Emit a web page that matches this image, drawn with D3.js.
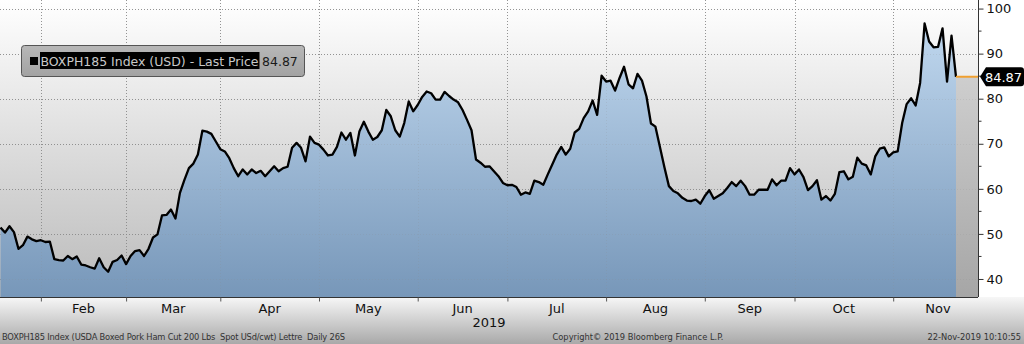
<!DOCTYPE html>
<html lang="en">
<head>
<meta charset="UTF-8">
<title>BOXPH185 Index</title>
<script src="https://d3js.org/d3.v7.min.js"></script>
<style>
  body { margin: 0; background: #fff; }
  svg { display: block; font-family: "DejaVu Sans", Verdana, sans-serif; }
  .foot text { white-space: pre; }
</style>
</head>
<body>
<svg width="1024" height="344"></svg>
<script>
// ---- data (one value per trading day) ----
const startDate = "2019-01-18";
const endAxisDate = "2019-12-31";
const holidays = ["2019-01-21", "2019-02-18", "2019-05-27", "2019-07-04",
                  "2019-09-02", "2019-10-14", "2019-11-28"];
const values = [
  // Jan
  51.4, 50.3, 51.7, 50.4, 46.7, 47.5, 49.4, 48.8, 48.4,
  // Feb
  48.6, 48.2, 48.3, 44.4, 44.2, 44.1, 45.1, 44.4, 45.0, 43.2,
  43.0, 42.6, 42.3, 44.6, 42.6, 41.6, 43.8, 44.2, 45.2,
  // Mar
  43.3, 45.1, 46.2, 46.4, 45.1, 46.7, 49.2, 49.9, 54.1, 54.2,
  55.4, 53.4, 59.1, 62.0, 64.6, 65.6, 67.6, 72.9, 72.7, 72.2, 70.5,
  // Apr
  68.8, 68.3, 66.8, 64.6, 62.8, 64.3, 63.2, 64.3, 63.5, 64.0, 62.8,
  63.9, 65.0, 63.9, 64.6, 64.9, 69.1, 70.2, 69.1, 66.1, 71.6, 70.2,
  // May
  69.8, 68.7, 67.4, 67.6, 69.3, 72.5, 70.9, 72.4, 67.4, 72.7, 74.9,
  72.7, 70.9, 71.5, 73.0, 77.5, 76.1, 73.0, 71.6, 74.6, 79.4, 77.2,
  // Jun
  78.6, 80.4, 81.6, 81.2, 79.8, 79.8, 81.5, 80.6, 79.8, 79.2,
  77.5, 75.3, 73.0, 66.5, 65.8, 64.9, 65.0, 63.9, 62.8, 61.3,
  // Jul
  60.8, 60.9, 60.4, 58.7, 59.2, 58.9, 61.8, 61.5, 60.9, 63.2, 65.4,
  67.6, 69.3, 67.6, 68.9, 72.5, 73.3, 75.7, 77.2, 79.6, 76.4, 85.1,
  // Aug
  83.8, 84.0, 81.8, 84.6, 87.1, 83.2, 82.3, 85.5, 84.0, 80.5, 74.5,
  73.8, 69.3, 64.8, 60.6, 59.5, 59.0, 58.0, 57.4, 57.3, 57.6, 56.7,
  // Sep
  58.4, 59.7, 57.8, 58.4, 59.0, 60.2, 61.5, 60.6, 61.8, 60.6,
  58.7, 58.7, 59.8, 59.8, 59.8, 62.1, 60.8, 61.8, 61.8, 64.6,
  // Oct
  63.2, 64.3, 62.6, 59.7, 60.6, 61.9, 57.6, 58.4, 57.4, 58.9, 63.7,
  63.9, 62.1, 62.7, 66.9, 65.6, 65.2, 63.2, 67.2, 68.9, 69.2, 67.2,
  // Nov
  68.1, 68.3, 74.6, 78.8, 80.1, 78.5, 83.5, 96.7, 92.7, 91.4,
  91.5, 95.6, 83.8, 94.0, 84.87
];
const monthLabels = ["Feb", "Mar", "Apr", "May", "Jun", "Jul", "Aug", "Sep", "Oct", "Nov"];
const yearLabel = "2019";
const yTicks = [40, 50, 60, 70, 80, 90, 100];
const yMinorTicks = [45, 55, 65, 75, 85, 95];
const lastPrice = 84.87;
const seriesName = "BOXPH185 Index (USD) - Last Price";
const footerLeft = "BOXPH185 Index (USDA Boxed Pork Ham Cut 200 Lbs  Spot USd/cwt) Lettre  Daily 26S";
const footerMid = "Copyright\u00A9 2019 Bloomberg Finance L.P.";
const footerRight = "22-Nov-2019 10:10:55";

// ---- layout ----
const svg = d3.select("svg");
const W = 1024, H = 344;
const plotR = 978, plotB = 297;

// trading days (weekdays without holidays)
const fmt = d3.utcFormat("%Y-%m-%d");
const days = d3.utcDay.range(new Date(startDate + "T00:00Z"), new Date(endAxisDate + "T00:00Z"))
  .filter(d => d.getUTCDay() !== 0 && d.getUTCDay() !== 6 && !holidays.includes(fmt(d)));
const last = values.length - 1;

const x = d3.scaleLinear().domain([0, last]).range([0.5, 956]);
const y = d3.scaleLinear().domain([36, 101.9]).range([plotB, 0]);

// first trading day of each month Feb..Dec
const monthStarts = d3.utcMonth.range(new Date("2019-02-01T00:00Z"), new Date("2019-12-02T00:00Z"))
  .map(m => days.findIndex(d => d >= m));
const gridX = monthStarts.slice(0, -1);

const defs = svg.append("defs");
function vGrad(id, y1, y2, stops) {
  const g = defs.append("linearGradient").attr("id", id)
    .attr("gradientUnits", "userSpaceOnUse")
    .attr("x1", 0).attr("x2", 0).attr("y1", y1).attr("y2", y2);
  stops.forEach(([o, c]) => g.append("stop").attr("offset", o).attr("stop-color", c));
}
vGrad("bgGrad", 0, plotB, [[0, "#ffffff"], [1, "#bababa"]]);
vGrad("areaGrad", 0, plotB, [[0, "#c6ddf3"], [1, "#7797b9"]]);
vGrad("grayGrad", 0, plotB, [[0, "#dcdcdc"], [1, "#a6a6a6"]]);
vGrad("footGrad", plotB, H, [[0, "#f7f7f7"], [1, "#a9a9a9"]]);
vGrad("legGrad", 45, 77, [[0, "#b8b8b8"], [1, "#a2a2a2"]]);
defs.append("clipPath").attr("id", "plotClip")
  .append("rect").attr("width", plotR).attr("height", plotB);

// backgrounds
svg.append("rect").attr("width", plotR).attr("height", plotB).attr("fill", "url(#bgGrad)");
svg.append("rect").attr("y", plotB).attr("width", W).attr("height", H - plotB).attr("fill", "url(#footGrad)");

const plot = svg.append("g").attr("clip-path", "url(#plotClip)");

function drawGrid(opacity) {
  const grid = plot.append("g").attr("stroke", "#8a8a8a").attr("stroke-opacity", opacity)
    .attr("stroke-dasharray", "1,2").attr("stroke-width", 1);
  grid.selectAll("line.h").data(yTicks).join("line").attr("class", "h")
    .attr("x1", 0).attr("x2", plotR)
    .attr("y1", d => Math.round(y(d)) + 0.5).attr("y2", d => Math.round(y(d)) + 0.5);
  grid.selectAll("line.v").data(gridX).join("line").attr("class", "v")
    .attr("y1", 0).attr("y2", plotB)
    .attr("x1", d => Math.round(x(d)) + 0.5).attr("x2", d => Math.round(x(d)) + 0.5);
}

// grid on the background
drawGrid(0.9);

// area under the series
plot.append("path")
  .datum(values)
  .attr("fill", "url(#areaGrad)")
  .attr("d", d3.area().x((d, i) => x(i)).y0(plotB).y1(d => y(d)));

// gray extension after the last price
plot.append("rect")
  .attr("x", x(last)).attr("y", y(lastPrice))
  .attr("width", plotR - x(last)).attr("height", plotB - y(lastPrice))
  .attr("fill", "url(#grayGrad)");

// faint grid showing through the area
drawGrid(0.18);

// series line
plot.append("path")
  .datum(values)
  .attr("fill", "none")
  .attr("stroke", "#000")
  .attr("stroke-width", 2.3)
  .attr("stroke-linejoin", "round")
  .attr("d", d3.line().x((d, i) => x(i)).y(d => y(d)));

// last price extension line
plot.append("line")
  .attr("x1", x(last)).attr("x2", plotR)
  .attr("y1", y(lastPrice)).attr("y2", y(lastPrice))
  .attr("stroke", "#f0a030").attr("stroke-width", 2);

// right axis
const yAxis = svg.append("g").attr("transform", `translate(${plotR + 0.5},0)`)
  .call(d3.axisRight(y).tickValues(yTicks).tickSize(5).tickSizeOuter(0).tickPadding(3));
yAxis.select(".domain").attr("stroke", "#333").attr("d", `M0,0V${plotB}`);
yAxis.selectAll(".tick line").attr("stroke", "#333");
yAxis.selectAll(".tick text").attr("font-size", 13).attr("fill", "#111")
  .attr("font-family", "DejaVu Sans, sans-serif");
yAxis.selectAll(".minor").data(yMinorTicks).join("line")
  .attr("x1", 0).attr("x2", 3)
  .attr("y1", d => y(d)).attr("y2", d => y(d)).attr("stroke", "#333");

// bottom axis
const xAxis = svg.append("g").attr("transform", `translate(0,${plotB + 0.5})`)
  .call(d3.axisBottom(x).tickValues(gridX).tickSize(4).tickSizeOuter(0).tickFormat(""));
xAxis.select(".domain").attr("stroke", "#333").attr("d", `M0,0H${plotR}`);
xAxis.selectAll(".tick line").attr("stroke", "#555");

svg.append("g").selectAll("text").data(monthLabels).join("text")
  .attr("x", (d, i) => (x(monthStarts[i]) + x(monthStarts[i + 1])) / 2)
  .attr("y", 313)
  .attr("text-anchor", "middle")
  .attr("font-size", 13).attr("fill", "#111")
  .text(d => d);
svg.append("text").attr("x", 489).attr("y", 327).attr("text-anchor", "middle")
  .attr("font-size", 13).attr("fill", "#111").text(yearLabel);

// footer
const foot = svg.append("g").attr("class", "foot").attr("font-size", 8.3).attr("fill", "#333");
foot.append("text").attr("x", 2).attr("y", 340).attr("textLength", 343).text(footerLeft);
foot.append("text").attr("x", 638).attr("y", 340).attr("text-anchor", "middle").text(footerMid);
foot.append("text").attr("x", 1021).attr("y", 340).attr("text-anchor", "end").text(footerRight);

// legend
const leg = svg.append("g");
leg.append("rect").attr("x", 21.5).attr("y", 45.5).attr("width", 283).attr("height", 31)
  .attr("rx", 3).attr("fill", "url(#legGrad)").attr("stroke", "#555");
leg.append("rect").attr("x", 30).attr("y", 57).attr("width", 8).attr("height", 8).attr("fill", "#000");
leg.append("rect").attr("x", 40).attr("y", 52).attr("width", 219.5).attr("height", 17).attr("fill", "#000");
leg.append("text").attr("x", 40.5).attr("y", 65.5).attr("font-size", 12.5).attr("fill", "#c8c8c8")
  .attr("textLength", 218).text(seriesName);
leg.append("text").attr("x", 262).attr("y", 65.5).attr("font-size", 12.5).attr("fill", "#1a1a1a")
  .text(d3.format(".2f")(lastPrice));

// last price tag
const ty = y(lastPrice);
svg.append("path")
  .attr("d", `M${plotR + 2},${ty} L${plotR + 8},${ty - 9.5} H1021 Q1024,${ty - 9.5} 1024,${ty - 6.5} V${ty + 6.5} Q1024,${ty + 9.5} 1021,${ty + 9.5} H${plotR + 8} Z`)
  .attr("fill", "#000");
svg.append("text").attr("x", 1003.5).attr("y", ty + 4.8).attr("text-anchor", "middle")
  .attr("font-size", 13).attr("fill", "#fff").text(d3.format(".2f")(lastPrice));
</script>
</body>
</html>
